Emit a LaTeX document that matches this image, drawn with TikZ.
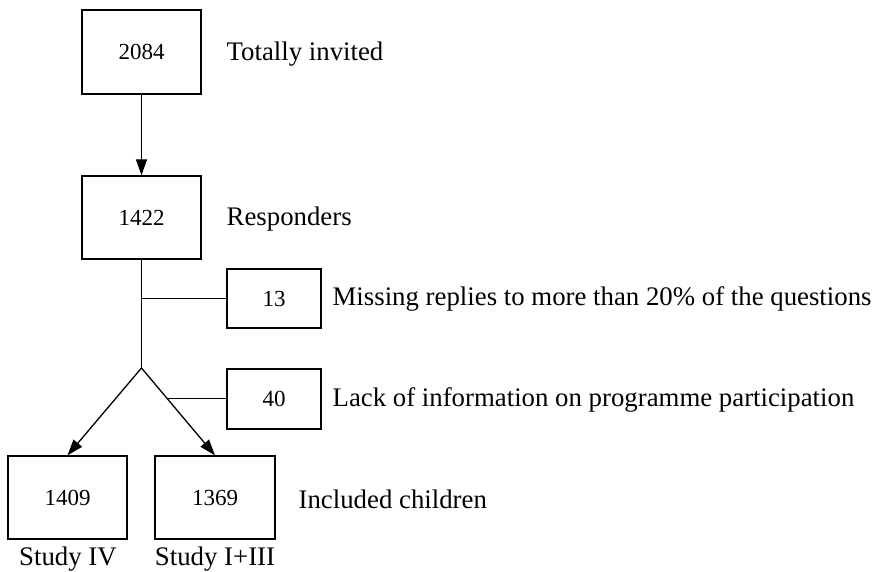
\documentclass[tikz,border=0pt]{standalone}
\usepackage{fontspec}
\setmainfont{Liberation Serif}
\usetikzlibrary{arrows.meta,calc}
\begin{document}
\begin{tikzpicture}[x=1pt,y=-1pt,
  line width=1.3pt,
  numbox/.style={draw, minimum width=119pt, minimum height=84pt, inner sep=0pt, font=\fontsize{23}{27}\selectfont},
  smallbox/.style={draw, minimum width=94pt, minimum height=60pt, inner sep=0pt, font=\fontsize{23}{27}\selectfont},
  lbl/.style={anchor=west, inner sep=0pt, font=\fontsize{26.8}{30}\selectfont},
  arr/.style={-{Triangle[length=16pt,width=11pt]}}]
\useasboundingbox (0,0) rectangle (877,572);
\node[numbox] (b2084) at (141.5,52) {2084};
\node[lbl] (t2084) at (226,54) {Totally invited};
\node[numbox, minimum height=83pt] (b1422) at (141.5,217.5) {1422};
\node[lbl] (t1422) at (226,219) {Responders};
\node[smallbox, minimum height=59pt] (b13) at (274,298.5) {13};
\node[lbl] (t13) at (332,299) {Missing replies to more than 20\% of the questions};
\node[smallbox] (b40) at (274,399) {40};
\node[lbl] (t40) at (332,400) {Lack of information on programme participation};
\node[numbox, minimum height=83pt] (b1409) at (67.5,497.5) {1409};
\node[numbox, minimum width=120pt, minimum height=83pt] (b1369) at (215,497.5) {1369};
\node[lbl] (tinc) at (298,499) {Included children};
\node[font=\fontsize{26.8}{30}\selectfont, inner sep=0pt] (s4) at (68,559) {Study IV};
\node[font=\fontsize{26.8}{30}\selectfont, inner sep=0pt] (s13) at (215,559) {Study I+III};
\coordinate (fork) at (141.5,368);
\coordinate (j1) at (141.5,298.5);
\draw[arr] (b2084.south) -- (b1422.north);
\draw (b1422.south) -- (fork);
\draw (j1) -- (b13.west);
\draw[arr] (fork) -- (b1409.north);
\draw[arr] (fork) -- (b1369.north);
\coordinate (j2) at ($(fork)!0.352!(b1369.north)$);
\draw (j2) -- (j2 -| b40.west);
\end{tikzpicture}
\end{document}
